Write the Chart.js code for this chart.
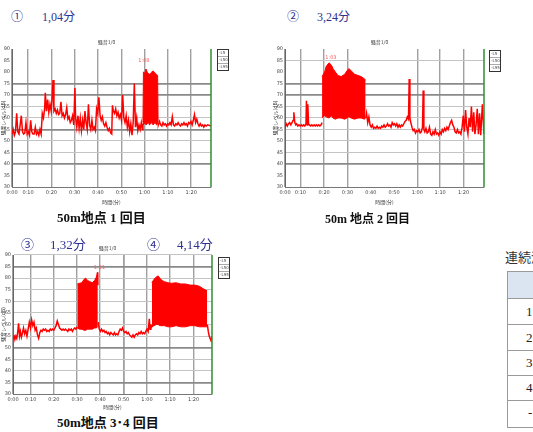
<!DOCTYPE html>
<html><head><meta charset="utf-8">
<script src="https://cdn.jsdelivr.net/npm/chart.js@4"></script>
<style>
html,body{margin:0;padding:0;background:#fff;width:533px;height:432px;overflow:hidden;position:relative;}
.abs{position:absolute;white-space:nowrap;z-index:2;}
.hd{color:#2e3192;font-family:"Liberation Serif","Noto Sans CJK JP",serif;font-size:12px;line-height:12px;}
.cap{color:#111;font-family:"Liberation Serif","Noto Sans CJK JP",serif;font-weight:bold;font-size:13px;line-height:13px;}
.cell{position:absolute;box-sizing:border-box;border:1px solid #9a9a9a;width:60px;}
.num{position:absolute;font-family:"Liberation Serif",serif;font-size:13px;line-height:13px;color:#222;}
canvas{position:absolute;z-index:1;}
</style></head><body>

<div class="abs hd" style="left:11px;top:11px">①</div>
<div class="abs hd" style="left:42px;top:11px">1,04分</div>
<div class="abs hd" style="left:287px;top:11px">②</div>
<div class="abs hd" style="left:317px;top:11px">3,24分</div>
<div class="abs hd" style="left:21px;top:238px;font-size:13px;line-height:13px">③</div>
<div class="abs hd" style="left:50px;top:238px;font-size:13px;line-height:13px">1,32分</div>
<div class="abs hd" style="left:147px;top:238px;font-size:13px;line-height:13px">④</div>
<div class="abs hd" style="left:177px;top:238px;font-size:13px;line-height:13px">4,14分</div>

<div class="abs cap" style="left:57px;top:211px">50m地点 1 回目</div>
<div class="abs cap" style="left:325px;top:213px;font-size:12px;line-height:12px">50m 地点 2 回目</div>
<div class="abs cap" style="left:57px;top:416px">50m地点 3･4 回目</div>

<div class="abs" style="left:505px;top:251px;font-family:'Liberation Serif','Noto Sans CJK JP',serif;font-size:13px;line-height:13px;color:#333">連続測定</div>
<div class="cell" style="left:507px;top:271px;height:28px;background:#dbe5f1"></div>
<div class="cell" style="left:507px;top:298px;height:27px"></div>
<div class="cell" style="left:507px;top:324px;height:27px"></div>
<div class="cell" style="left:507px;top:350px;height:26px"></div>
<div class="cell" style="left:507px;top:375px;height:26px"></div>
<div class="cell" style="left:507px;top:400px;height:28px"></div>
<div class="num" style="left:526px;top:305px">1</div>
<div class="num" style="left:526px;top:331px">2</div>
<div class="num" style="left:526px;top:356px">3</div>
<div class="num" style="left:526px;top:381px">4</div>
<div class="num" style="left:528px;top:406px">-</div>

<canvas id="c1" width="232" height="172" style="left:0;top:36px"></canvas>
<canvas id="c2" width="232" height="172" style="left:272px;top:36px"></canvas>
<canvas id="c3" width="232" height="172" style="left:0;top:242px"></canvas>

<script>
// ---- shared axis data ----
const yTicks = [30,35,40,45,50,55,60,65,70,75,80,85,90];
const xTickLabels = ["0:00","0:10","0:20","0:30","0:40","0:50","1:00","1:10","1:20"];
const legendItems = ["-L5","-L50","-L95"];

// ---- chart 1 (50m, run 1) ----  [time, level]; null level = gap under the dense block
const c1XTickPos = [0,6.9,16.9,26.9,36.9,46.9,56.9,66.9,76.9];
const c1Line = [[0,53],[0.5,55],[1,52.5],[1.5,54],[2,62],[2.5,54],[3,53],[3.5,57],[4,61],[4.5,54],[5,53],[5.5,53.5],[6,58],[6.5,53],[7,54],[7.5,52.5],[8,59],[8.5,54],[9,53],[9.5,53],[10,56],[10.5,53],[11,54],[11.5,52.5],[12,55],[12.5,53],
[13,62],[13.5,60],[14,64],[14.3,71],[14.8,63],[15.3,68],[15.8,62.5],[16.3,66],[16.8,63],[17.3,70],[17.6,76.5],[18,63],[18.5,64],[19,62],[19.5,63.5],[20,61.5],[20.5,62],[21,67],[21.5,61],[22,62],[22.5,60],[23,61.5],[23.5,64.5],[24,59.5],[24.5,60.5],[25,58],[25.5,59],[26,61],[26.5,57],[27,73],[27.3,60],[27.8,56],[28.3,61],[28.8,55.5],[29.3,60],[29.8,54.5],[30.3,59],[30.8,55],[31.3,63],[31.8,58],[32.3,55],[32.8,66],[33.3,57],[33.8,55],[34.3,59],[34.8,55],[35.3,56],[35.8,54.5],[36.3,64],[36.8,62],[37.3,69],[37.8,61],[38.3,59],[38.8,60.5],[39.3,57.5],[39.8,56.5],[40.3,58],[40.8,56],[41.3,54.5],[41.8,55.5],[42.3,53.5],[42.8,53],
[43.1,65.5],[43.5,63],[44,62],[44.5,64],[45,61],[45.5,62.5],[46,60],[46.5,61.5],[47,59],[47.5,70],[48,60],[48.5,58],[49,61],[49.5,56],[50,59],[50.5,54],[51,57.5],[51.5,52.5],[52,58],[52.5,75],[53,56],[53.5,60],[54,54.5],[54.5,57],[55,55],[55.5,58],[56,55],[56.2,57.5],[59,null],
[62.7,57.5],[62.8,57],[63.3,58.5],[63.8,57],[64.3,56.5],[64.8,58],[65.3,57],[65.8,57.5],[66.3,56.5],[66.8,57.5],[67.3,57],[67.8,58],[68.3,57],[68.8,60.5],[69.3,57],[69.8,56.5],[70.3,57.5],[70.8,57],[71.3,58],[71.8,57],[72.3,56.5],[72.8,57.5],[73.3,57],[73.8,58],[74.3,57],[74.8,57.5],[75.3,56.5],[75.8,58],[76.3,57.5],[76.8,58.5],[77.3,57],[77.8,59],[78.3,61.5],[78.8,58],[79.3,59.5],[79.8,57.5],[80.3,56.5],[80.8,57.5],[81.3,56.5],[81.8,57],[82.3,56],[82.8,57],[83.3,56.5],[84,57],[85.4,56.5]];
const c1BandTime   = [56.2,56.4,57,57.5,58,58.5,59,59.5,60,60.5,61,61.5,62,62.5,62.7];
const c1BandTop    = [58,80,79.5,81.3,80,79.5,79,79.5,80,80.5,80,79.5,79,78.5,58];
const c1BandBottom = [57.5,57,58,57,57.5,58,57,57.5,58,57,57.5,58,57,57.5,57.5];
const c1Peak = {time:56.6, level:85, text:"1:08"};

// ---- chart 2 (50m, run 2) ----
const c2XTickPos = [0,6.6,16.8,26.8,36.8,46.8,56.8,66.6,76.6];
const c2Line = [[0,56],[0.5,57.5],[1,56.5],[1.5,57.5],[2,58],[2.5,57],[3,58],[3.5,59],[3.8,62.5],[4.2,58],[4.6,57],[5,57.5],[5.5,56.5],[6,57],[6.5,56.5],[7,57],[7.5,56.5],[8,57],[8.5,56.5],[9,57.5],[9.2,67.5],[9.5,57],[9.8,66],[10.1,57.5],[10.5,57],[11,56.5],[11.5,57],[12,56.5],[12.5,57],[13,56.5],[13.5,57],[14,56.5],[14.5,57],[15,56.5],[15.5,57],[15.9,58],[25,null],
[34.7,60],[35,62],[35.5,58],[36,60.5],[36.5,57],[37,56],[37.5,57],[38,55.5],[38.5,56],[39,55.5],[39.5,56.5],[40,55.5],[40.5,56],[41,55.5],[41.5,56.5],[42,56],[42.5,57],[43,56],[43.5,56.5],[44,57.5],[44.5,56.5],[45,57],[45.5,56],[46,58],[46.5,57],[47,57.5],[47.5,56.5],[48,57.5],[48.5,56],[49,57],[49.5,56],[50,57],[50.5,56.5],[51,57.5],[51.5,58.5],[52,59],[52.5,60.5],[53,59.5],[53.3,77],[53.6,60],[54,58],[54.5,56],[55,54.5],[55.5,55],[56,53.5],[56.5,54.5],[57,54],[57.5,55],[58,53.5],[58.5,54],[59,56],[59.3,72],[59.6,55],[60,54],[60.5,55.5],[61,53.5],[61.5,54],[62,56],[62.5,53],[63,52.5],[63.5,54],[64,53],[64.5,55],[65,53],[65.5,53.5],[66,52.5],[66.5,54],[67,53],[67.5,55],[68,54],[68.5,55.5],[69,54.5],[69.5,56],[70,55],[70.5,56.5],[71,58],[71.5,59],[72,57],[72.5,56],[73,54],[73.5,53.5],[74,55],[74.5,53.5],[75,54],[75.5,53],[76,56],[76.5,61],[77,54],[77.5,63.5],[78,56],[78.5,53],[79,60],[79.5,56],[80,65],[80.5,54],[81,62.5],[81.5,53],[82,57],[82.5,64],[83,53],[83.5,62],[84,52.5],[84.7,66],[85.4,53]];
const c2BandTime   = [15.9,17,17.7,18.9,19.9,20.6,21.6,22.7,24.1,25.6,26.6,27.4,28.4,29.9,31.3,32.7,34.1,34.6];
const c2BandTop    = [78,80,82.5,84,83,81.5,80,78.5,78,79,80.5,81.5,80.5,79,78.5,78,77,76.5];
const c2BandBottom = [60,61,60.5,60,61,60,59.5,60,60,59.5,60,60.5,60,59.5,60,60,59.5,60];
const c2Peak = {time:19.7, level:86, text:"1:03"};

// ---- chart 3 (50m, runs 3 and 4) ----
const c3XTickPos = [0,7.6,17.5,27.5,37.4,47.5,57.5,67.4,77.5];
const c3Line = [[0,54],[0.4,55.5],[0.8,53.5],[1.2,55],[1.6,54],[2,56.5],[2.4,60.5],[2.8,55],[3.2,57],[3.6,54.5],[4,56],[4.5,58.5],[5,56],[5.5,57.5],[6,55],[6.5,58],[7,61],[7.5,58.5],[8,62],[8.5,59.5],[9,61],[9.5,57.5],[10,58.5],[10.5,55.5],[11,54],[11.5,56.5],[12,57.5],[12.5,57],[13,58],[13.5,57.5],[14,58],[14.5,57],[15,57.5],[15.5,57],[16,58],[16.5,57.5],[17,58],[17.5,57.5],[18,58.5],[18.5,59.5],[19,61.5],[19.5,60],[20,58.5],[20.5,58],[21,57.5],[21.5,58],[22,57.5],[22.5,58],[23,57.5],[23.5,57],[24,58],[24.5,57.5],[25,58],[25.5,57],[26,58],[26.5,58.5],[27,58],[27.5,59],[32,null],
[36.6,61],[37,58],[37.5,57],[38,58],[38.5,57],[39,57.5],[39.5,56.5],[40,57],[40.5,56],[41,56.5],[41.5,55.5],[42,56.5],[42.5,56],[43,55.5],[43.5,56.5],[44,55.5],[44.5,56],[45,55.5],[45.5,57],[46,58],[46.5,57.5],[47,58.5],[47.5,57],[48,56.5],[48.5,57],[49,56],[49.5,56.5],[50,55.5],[50.5,55],[51,54.5],[51.5,55.5],[52,54.5],[52.5,55.5],[53,56],[53.5,55.5],[54,56.5],[54.5,56],[55,57],[55.5,56],[56,56.5],[56.5,56],[57,57],[57.5,58],[58,57],[58.5,62.5],[58.8,58],[59.2,60],[59.5,58.5],[70,null],
[83.4,60],[83.8,57],[84.2,55],[84.6,54],[85,53],[85.4,55]];
const c3Band1Time   = [27.6,28.5,29.5,30.5,31.2,32,33,34,35,35.8,36.2,36.4];
const c3Band1Top    = [77.5,77.8,78,79.5,80,79,78.5,78,79,80.5,82.5,77];
const c3Band1Bottom = [58.5,58,58,57.5,57.5,58,58,58,58.5,58.5,59,59];
const c3Band2Time   = [59.6,60.5,61.5,62.3,63,64,65,66.5,68,70,72,74,76,78,80,81.5,82.5,83.3];
const c3Band2Top    = [78,79.5,80.5,81,80,79,78.5,78,77.8,78,77.5,77.5,77,77,76.5,75.5,75,74.5];
const c3Band2Bottom = [59,59.5,60,60,59.5,59.5,59.5,59,59,59.5,59,59,59.5,59.5,59,59,59,59];
const c3Peak = {time:37.1, level:84.5, text:"1:21"};

const decor = {
  id: 'decor',
  afterDatasetsDraw(chart, args, o) {
    const {ctx, chartArea: a, scales: {x, y}} = chart;
    ctx.save();
    ctx.strokeStyle = '#2f8f2f'; ctx.lineWidth = 1.5;
    ctx.beginPath(); ctx.moveTo(a.right, a.top); ctx.lineTo(a.right, a.bottom); ctx.stroke();
    ctx.fillStyle = '#ff5a5a'; ctx.font = '5px "DejaVu Sans"';
    ctx.textAlign = 'center'; ctx.textBaseline = 'middle';
    ctx.fillText(o.peakText, x.getPixelForValue(o.peakTime), y.getPixelForValue(o.peakLevel));
    ctx.fillStyle = '#444'; ctx.font = '5px "Noto Sans CJK JP"';
    ctx.fillText(o.title, (a.left + a.right) / 2 - 5, a.top - 7);
    const lx = a.right + o.legendDx, ly = a.top + o.legendDy;
    ctx.fillStyle = '#fff'; ctx.fillRect(lx, ly, 11, 21);
    ctx.strokeStyle = '#333'; ctx.lineWidth = 1; ctx.strokeRect(lx + 0.5, ly + 0.5, 11, 21);
    ctx.strokeStyle = '#aaa';
    for (let i = 1; i < 3; i++) { ctx.beginPath(); ctx.moveTo(lx + 1, ly + 0.5 + i * 7); ctx.lineTo(lx + 11, ly + 0.5 + i * 7); ctx.stroke(); }
    ctx.fillStyle = '#444'; ctx.font = '4px "DejaVu Sans"'; ctx.textAlign = 'left';
    o.items.forEach((t, i) => ctx.fillText(t, lx + 2, ly + 4 + i * 7));
    ctx.restore();
  }
};

function build(id, cfg) {
  const datasets = [{
    data: cfg.line.map(p => ({x: p[0], y: p[1]})),
    borderColor: '#ff0000', borderWidth: 1.5, pointRadius: 0, tension: 0, fill: false, spanGaps: false
  }];
  cfg.bands.forEach(b => {
    datasets.push({data: b.time.map((t, i) => ({x: t, y: b.bottom[i]})), borderColor: '#ff0000', borderWidth: 1, pointRadius: 0, tension: 0, fill: false});
    datasets.push({data: b.time.map((t, i) => ({x: t, y: b.top[i]})), borderColor: '#ff0000', borderWidth: 1, pointRadius: 0, tension: 0, fill: '-1', backgroundColor: '#ff0000'});
  });
  const tickFont = {size: 5, family: 'DejaVu Sans'};
  const cjkFont = {size: 5, family: 'Noto Sans CJK JP'};
  new Chart(document.getElementById(id), {
    type: 'line',
    data: {datasets},
    options: {
      responsive: false, animation: false, events: [],
      layout: {padding: {top: 13, right: cfg.padRight, left: 0, bottom: 0}},
      plugins: {
        legend: {display: false}, tooltip: {enabled: false},
        decor: {peakTime: cfg.peak.time, peakLevel: cfg.peak.level, peakText: cfg.peak.text,
                title: '騒音1/0', items: legendItems, legendDx: cfg.legendDx, legendDy: cfg.legendDy}
      },
      scales: {
        x: {
          type: 'linear', min: 0, max: 85.4,
          afterBuildTicks: s => { s.ticks = cfg.xTickPos.map(v => ({value: v})); },
          afterFit: s => { s.height = cfg.xAxisH; },
          ticks: {autoSkip: false, maxRotation: 0, padding: 3, font: tickFont, color: '#444',
                  callback: (v, i) => xTickLabels[i]},
          grid: {color: c => cfg.xHidden.includes(c.index) ? 'rgba(0,0,0,0)' : '#a0a0a0',
                 lineWidth: c => cfg.xDark.includes(c.index) ? 1.8 : 1.4, drawTicks: false},
          border: {color: '#777', width: 1},
          title: {display: true, text: '時間(分)', font: cjkFont, color: '#333', padding: {top: 0, bottom: cfg.xTitlePad}}
        },
        y: {
          min: 30, max: 90,
          afterBuildTicks: s => { s.ticks = yTicks.map(v => ({value: v})); },
          afterFit: s => { s.width = cfg.yAxisW; },
          ticks: {padding: 2, font: tickFont, color: '#444'},
          grid: {color: c => cfg.darkGrid.includes(c.tick.value) ? '#8a8a8a' : (cfg.lightGrid.includes(c.tick.value) ? '#c4c4c4' : 'rgba(0,0,0,0)'),
                 lineWidth: c => cfg.darkGrid.includes(c.tick.value) ? 1.7 : 1.1, drawTicks: false},
          border: {color: '#666', width: 1},
          title: {display: true, text: '騒音レベル(dB)', font: cjkFont, color: '#333', padding: 0}
        }
      }
    },
    plugins: [decor]
  });
}

build('c1', {
  line: c1Line, bands: [{time: c1BandTime, top: c1BandTop, bottom: c1BandBottom}], peak: c1Peak,
  xTickPos: c1XTickPos, xHidden: [], xDark: [],
  darkGrid: [75, 70, 55, 40], lightGrid: [65, 60, 50, 45],
  padRight: 21, yAxisW: 12, xAxisH: 21, xTitlePad: 3, legendDx: 6, legendDy: 0
});
build('c2', {
  line: c2Line, bands: [{time: c2BandTime, top: c2BandTop, bottom: c2BandBottom}], peak: c2Peak,
  xTickPos: c2XTickPos, xHidden: [4, 5], xDark: [],
  darkGrid: [75, 70, 40], lightGrid: [85, 65, 60, 55, 50, 45],
  padRight: 20, yAxisW: 13, xAxisH: 21, xTitlePad: 3, legendDx: 5, legendDy: 1
});
build('c3', {
  line: c3Line,
  bands: [{time: c3Band1Time, top: c3Band1Top, bottom: c3Band1Bottom},
          {time: c3Band2Time, top: c3Band2Top, bottom: c3Band2Bottom}],
  peak: c3Peak,
  xTickPos: c3XTickPos, xHidden: [], xDark: [5],
  darkGrid: [85, 50, 35], lightGrid: [90, 80, 75, 70, 65, 60, 55, 45, 40],
  padRight: 20, yAxisW: 13, xAxisH: 20, xTitlePad: 4, legendDx: 6, legendDy: 2
});
</script>
</body></html>
